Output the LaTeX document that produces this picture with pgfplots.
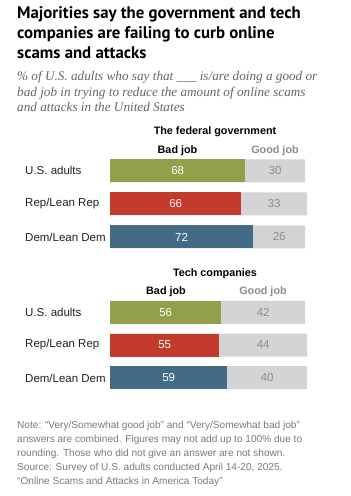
\documentclass[border=0pt]{standalone}
\usepackage{pgfplots}
\usepackage{pgfplotstable}
\pgfplotsset{compat=1.18}
\usepackage{fontspec}
\setmainfont{Liberation Sans}
\newfontfamily\serifit{Liberation Serif}
\newfontfamily\titlefont{PT Sans}
\definecolor{olivebar}{HTML}{949F4A}
\definecolor{redbar}{HTML}{C23B2C}
\definecolor{bluebar}{HTML}{436C84}
\definecolor{goodgray}{HTML}{D4D4D6}
\definecolor{numgray}{HTML}{8C8C8C}
\definecolor{subgray}{HTML}{666666}
\definecolor{notegray}{HTML}{7A7A7A}
\definecolor{txt}{HTML}{222222}

\pgfplotstableread{
y bad good
0 68 30
1 66 33
2 72 26
}\fedtab
\pgfplotstableread{
y bad good
0 56 42
1 55 44
2 59 40
}\techtab

\pgfplotsset{
  panel/.style={
    scale only axis, width=199pt, height=99pt,
    xmin=0, xmax=100, ymin=-0.5, ymax=2.5, y dir=reverse,
    hide axis, clip=false, anchor=south west,
  },
  badbar/.style={xbar, bar shift=0pt, bar width=23pt, draw=none, fill=#1},
  lab/.style={draw=none, mark=none, nodes near coords, nodes near coords align={center},
    point meta=explicit symbolic,
    every node near coord/.append style={font=\fontsize{11.5}{12}\selectfont, text=#1, inner sep=0pt}},
}

\begin{document}
\begin{tikzpicture}[x=1pt,y=1pt]
\fill[white] (0,0) rectangle (351,496);
\path[use as bounding box] (0,0) rectangle (351,496);

% Title
\foreach \yy/\t in {477/{Majorities say the government and tech}, 457/{companies are failing to curb online}, 437/{scams and attacks}}{
  \node[anchor=base west, inner sep=0pt, font=\titlefont\fontsize{16.8}{20}\selectfont\bfseries, text=black] at (17,\yy) {\t};
}
% Subtitle
\foreach \yy/\t in {415/{\% of U.S. adults who say that \_\_\_ is/are doing a good or}, 399/{bad job in trying to reduce the amount of online scams}, 384/{and attacks in the United States}}{
  \node[anchor=base west, inner sep=0pt, font=\serifit\fontsize{13.2}{16}\selectfont\itshape, text=subgray] at (17,\yy) {\t};
}

% Panel 1 headers
\node[font=\fontsize{10.8}{12}\selectfont\bfseries, text=black] at (215,364) {The federal government};
\node[font=\fontsize{10.8}{12}\selectfont\bfseries, text=black] at (177.5,345) {Bad job};
\node[font=\fontsize{10.8}{12}\selectfont\bfseries, text=numgray] at (275,345) {Good job};
% Panel 2 headers
\node[font=\fontsize{10.8}{12}\selectfont\bfseries, text=black] at (215,222) {Tech companies};
\node[font=\fontsize{10.8}{12}\selectfont\bfseries, text=black] at (166,204) {Bad job};
\node[font=\fontsize{10.8}{12}\selectfont\bfseries, text=numgray] at (263,204) {Good job};

% Category labels
\foreach \yy/\t in {326/{U.S. adults}, 292/{Rep/Lean Rep}, 259/{Dem/Lean Dem}, 184/{U.S. adults}, 151/{Rep/Lean Rep}, 118/{Dem/Lean Dem}}{
  \node[anchor=west, inner sep=0pt, font=\fontsize{11.5}{12}\selectfont, text=txt] at (25,\yy) {\t};
}

\begin{axis}[panel, at={(110pt,242.5pt)}]
\addplot[badbar=goodgray] table[x expr=\thisrow{bad}+\thisrow{good}, y=y] {\fedtab};
\addplot[badbar=olivebar, skip coords between index={1}{3}] table[x=bad, y=y] {\fedtab};
\addplot[badbar=redbar, skip coords between index={0}{1}, skip coords between index={2}{3}] table[x=bad, y=y] {\fedtab};
\addplot[badbar=bluebar, skip coords between index={0}{2}] table[x=bad, y=y] {\fedtab};
\addplot[lab=white] table[x expr=\thisrow{bad}/2, y=y, meta=bad] {\fedtab};
\addplot[lab=numgray] table[x expr=\thisrow{bad}+\thisrow{good}/2, y=y, meta=good] {\fedtab};
\end{axis}

\begin{axis}[panel, height=98pt, at={(110pt,102pt)}]
\addplot[badbar=goodgray] table[x expr=\thisrow{bad}+\thisrow{good}, y=y] {\techtab};
\addplot[badbar=olivebar, skip coords between index={1}{3}] table[x=bad, y=y] {\techtab};
\addplot[badbar=redbar, skip coords between index={0}{1}, skip coords between index={2}{3}] table[x=bad, y=y] {\techtab};
\addplot[badbar=bluebar, skip coords between index={0}{2}] table[x=bad, y=y] {\techtab};
\addplot[lab=white] table[x expr=\thisrow{bad}/2, y=y, meta=bad] {\techtab};
\addplot[lab=numgray] table[x expr=\thisrow{bad}+\thisrow{good}/2, y=y, meta=good] {\techtab};
\end{axis}

% Note
\foreach \yy/\t in {67.5/{Note: ``Very/Somewhat good job'' and ``Very/Somewhat bad job''}, 53.5/{answers are combined. Figures may not add up to 100\% due to}, 39.5/{rounding. Those who did not give an answer are not shown.}, 25.5/{Source: Survey of U.S. adults conducted April 14-20, 2025.}, 11.5/{``Online Scams and Attacks in America Today''}}{
  \node[anchor=base west, inner sep=0pt, font=\fontsize{10.1}{14}\selectfont, text=notegray] at (17,\yy) {\t};
}
\end{tikzpicture}
\end{document}
